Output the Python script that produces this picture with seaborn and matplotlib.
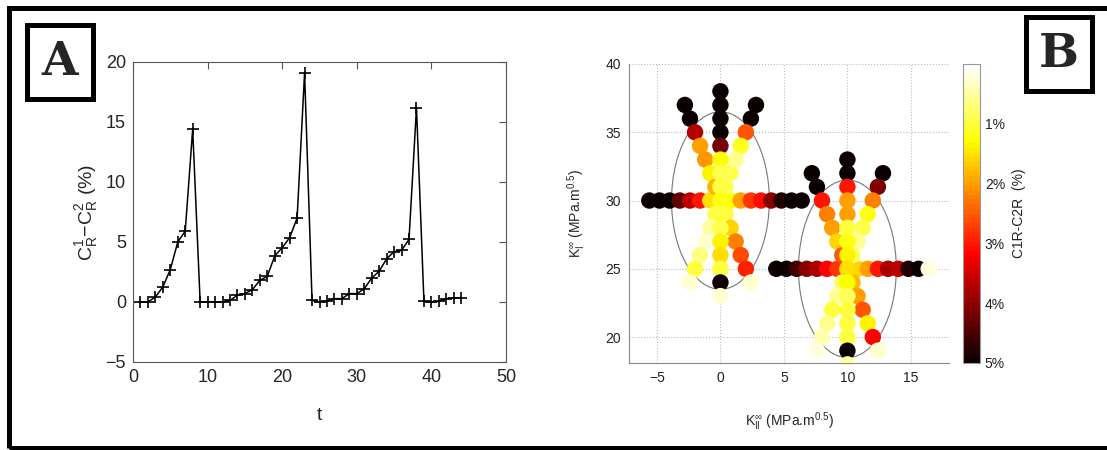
import numpy as np
import pandas as pd
import matplotlib
import matplotlib.pyplot as plt
import seaborn as sns
from matplotlib.patches import Ellipse, Rectangle
from matplotlib.colors import Normalize
from matplotlib.cm import ScalarMappable

# ----- Panel A data: C_R^1 - C_R^2 (%) over t -----
t_vals = list(range(1, 45))
diff_vals = [0, 0, 0.42, 1.25, 2.7, 5.0, 5.9, 14.4, 0, 0, 0, 0, 0.14, 0.56, 0.7, 1.03,
             1.8, 2.14, 3.84, 4.53, 5.36, 7.0, 19.1, 0.14, 0, 0.08, 0.28, 0.28, 0.7, 0.7,
             1.1, 2.0, 2.56, 3.6, 4.2, 4.3, 5.22, 16.2, 0.05, 0, 0.05, 0.28, 0.33, 0.33]

# ----- Panel B data: star 1 centred at (0, 30) -----
row1_kii = [-5.6, -4.8, -4.0, -3.2, -2.4, -1.6, -0.8, 0.0, 0.8, 1.6, 2.4, 3.2, 4.0, 4.8, 5.6, 6.4]
row1_ki = 30
row1_err = [5, 5, 5, 4.3, 3.6, 3.0, 1.5, 1.2, 1.3, 2.0, 2.8, 3.1, 4.0, 4.8, 5, 5]

col1_kii = 0
col1_ki = [38, 37, 36, 35, 34, 33, 32, 31, 30, 29, 28, 27, 26, 25, 24, 23]
col1_err = [5, 5, 5, 5, 4.2, 1.3, 0.9, 1.0, 1.2, 1.0, 0.9, 1.4, 1.5, 1.0, 5, 0.3]

diagA1_kii = [-2.8, -2.4, -2.0, -1.6, -1.2, -0.8, -0.4, 0.4, 0.8, 1.2, 1.6, 2.0, 2.4]
diagA1_ki = [37, 36, 35, 34, 33, 32, 31, 29, 28, 27, 26, 25, 24]
diagA1_err = [5, 5, 3.7, 2.0, 2.1, 1.4, 1.8, 1.0, 1.6, 2.2, 2.6, 2.9, 0.3]

diagB1_kii = [2.8, 2.4, 2.0, 1.6, 1.2, 0.8, 0.4, -0.4, -0.8, -1.2, -1.6, -2.0, -2.4]
diagB1_ki = [37, 36, 35, 34, 33, 32, 31, 29, 28, 27, 26, 25, 24]
diagB1_err = [5, 5, 2.5, 1.1, 0.6, 0.9, 0.9, 0.9, 0.5, 0.3, 0.7, 1.0, 0.3]

# ----- Panel B data: star 2 centred at (10, 25) -----
row2_kii = [4.4, 5.2, 6.0, 6.8, 7.6, 8.4, 9.2, 10.0, 10.8, 11.6, 12.4, 13.2, 14.0, 14.8, 15.6, 16.4]
row2_ki = 25
row2_err = [5, 5, 4.6, 4.0, 3.8, 3.2, 2.8, 2.2, 1.6, 2.0, 3.0, 3.8, 3.6, 4.8, 5, 0.2]

col2_kii = 10
col2_ki = [33, 32, 31, 30, 29, 28, 27, 26, 25, 24, 23, 22, 21, 20, 19, 18]
col2_err = [5, 5, 3.0, 2.0, 2.0, 1.0, 1.2, 1.4, 1.5, 1.3, 0.8, 1.0, 1.0, 1.0, 5, 0.5]

diagA2_kii = [7.2, 7.6, 8.0, 8.4, 8.8, 9.2, 9.6, 10.4, 10.8, 11.2, 11.6, 12.0, 12.4]
diagA2_ki = [32, 31, 30, 29, 28, 27, 26, 24, 23, 22, 21, 20, 19]
diagA2_err = [5, 5, 3.0, 2.2, 2.0, 1.6, 2.5, 1.8, 2.0, 2.5, 1.4, 3.2, 0.3]

diagB2_kii = [12.8, 12.4, 12.0, 11.6, 11.2, 10.8, 10.4, 9.6, 9.2, 8.8, 8.4, 8.0, 7.6]
diagB2_ki = [32, 31, 30, 29, 28, 27, 26, 24, 23, 22, 21, 20, 19]
diagB2_err = [5, 4.1, 2.2, 1.2, 0.9, 0.6, 0.8, 0.8, 0.6, 1.0, 0.6, 0.4, 0.2]

ellipse_centres = [(0, 30), (10, 25)]
cbar_ticks = [1, 2, 3, 4, 5]
cbar_labels = ['1%', '2%', '3%', '4%', '5%']

# build one table for the scatter
parts = [
    pd.DataFrame({'kii': row1_kii, 'ki': row1_ki, 'err': row1_err}),
    pd.DataFrame({'kii': row2_kii, 'ki': row2_ki, 'err': row2_err}),
    pd.DataFrame({'kii': diagA1_kii, 'ki': diagA1_ki, 'err': diagA1_err}),
    pd.DataFrame({'kii': diagB1_kii, 'ki': diagB1_ki, 'err': diagB1_err}),
    pd.DataFrame({'kii': diagA2_kii, 'ki': diagA2_ki, 'err': diagA2_err}),
    pd.DataFrame({'kii': diagB2_kii, 'ki': diagB2_ki, 'err': diagB2_err}),
    pd.DataFrame({'kii': col1_kii, 'ki': col1_ki, 'err': col1_err}),
    pd.DataFrame({'kii': col2_kii, 'ki': col2_ki, 'err': col2_err}),
]
df_b = pd.concat(parts, ignore_index=True)

sns.set_style('white')
plt.rcParams['font.family'] = ['Liberation Sans', 'DejaVu Sans']
plt.rcParams['mathtext.default'] = 'regular'

W, H = 1107, 450


def px(x0, y0, x1, y1):
    return [x0 / W, 1 - y1 / H, (x1 - x0) / W, (y1 - y0) / H]


fig = plt.figure(figsize=(W / 100, H / 100), dpi=100)

# ----- Panel A -----
axA = fig.add_axes(px(133, 62, 506, 362))
sns.lineplot(x=t_vals, y=diff_vals, ax=axA, color='black', lw=1.1, marker='+',
             markersize=8, markeredgewidth=1.2, markeredgecolor='black')
axA.set_xlim(0, 50)
axA.set_ylim(-5, 20)
axA.set_xticks([0, 10, 20, 30, 40, 50])
axA.set_yticks([-5, 0, 5, 10, 15, 20])
axA.tick_params(direction='in', top=True, right=True, labelsize=13, length=5,
                color='#555555', pad=5)
for s in axA.spines.values():
    s.set_color('#555555')
    s.set_linewidth(0.8)
axA.set_xlabel('t', fontsize=14, labelpad=15)
axA.set_ylabel(r'$C_R^1{-}C_R^2$ (%)', fontsize=14, labelpad=4)

# ----- Panel B -----
cmap = plt.get_cmap('hot_r', 64)
axB = fig.add_axes(px(629, 64, 949, 363))
for c in ellipse_centres:
    axB.add_patch(Ellipse(c, width=7.7, height=13, fill=False, edgecolor='#777777',
                          lw=0.8, zorder=1))
sns.scatterplot(data=df_b, x='kii', y='ki', hue='err', palette=cmap, hue_norm=(0, 5),
                s=140, linewidth=0, legend=False, ax=axB, zorder=3)
axB.set_xlim(-7.2, 18)
axB.set_ylim(18.1, 40)
axB.set_xticks([-5, 0, 5, 10, 15])
axB.set_yticks([20, 25, 30, 35, 40])
axB.grid(True, linestyle=':', color='#bbbbbb', lw=0.8)
axB.tick_params(labelsize=10, length=0, pad=6, labelcolor='#222222')
for side in ['top', 'right']:
    axB.spines[side].set_visible(False)
for side in ['left', 'bottom']:
    axB.spines[side].set_color('#888888')
    axB.spines[side].set_linewidth(0.8)
axB.set_xlabel(r'$K_{II}^{\infty}$ (MPa.m$^{0.5}$)', fontsize=10, labelpad=18)
axB.set_ylabel(r'$K_I^{\infty}$ (MPa.m$^{0.5}$)', fontsize=10, labelpad=12)

cax = fig.add_axes(px(963, 64, 980, 363))
sm = ScalarMappable(norm=Normalize(0, 5), cmap=cmap)
cb = fig.colorbar(sm, cax=cax)
cax.invert_yaxis()
cb.set_ticks(cbar_ticks)
cb.set_ticklabels(cbar_labels)
cb.outline.set_edgecolor('#999999')
cb.outline.set_linewidth(0.8)
cax.tick_params(direction='in', length=4, labelsize=10, color='#555555', labelcolor='#222222')
cb.set_label('C1R-C2R  (%)', fontsize=10, labelpad=5, color='#222222')

# ----- Labels in boxes and outer frame -----
fig.add_artist(Rectangle((9 / W, 1 - 447.5 / H), 1110 / W, 440 / H, transform=fig.transFigure,
                         fill=False, edgecolor='black', lw=3.6, clip_on=False))
for lab, (x0, y0, x1, y1) in [('A', (27, 25, 93, 99)), ('B', (1026, 17, 1092, 91))]:
    fig.add_artist(Rectangle((x0 / W, 1 - y1 / H), (x1 - x0) / W, (y1 - y0) / H,
                             transform=fig.transFigure, facecolor='white',
                             edgecolor='black', lw=3.6))
    fig.text((x0 + x1) / 2 / W, 1 - (y0 + y1) / 2 / H, lab, ha='center', va='center',
             fontsize=34, fontweight='bold', family='DejaVu Serif')

plt.savefig('out.png', dpi=100)
